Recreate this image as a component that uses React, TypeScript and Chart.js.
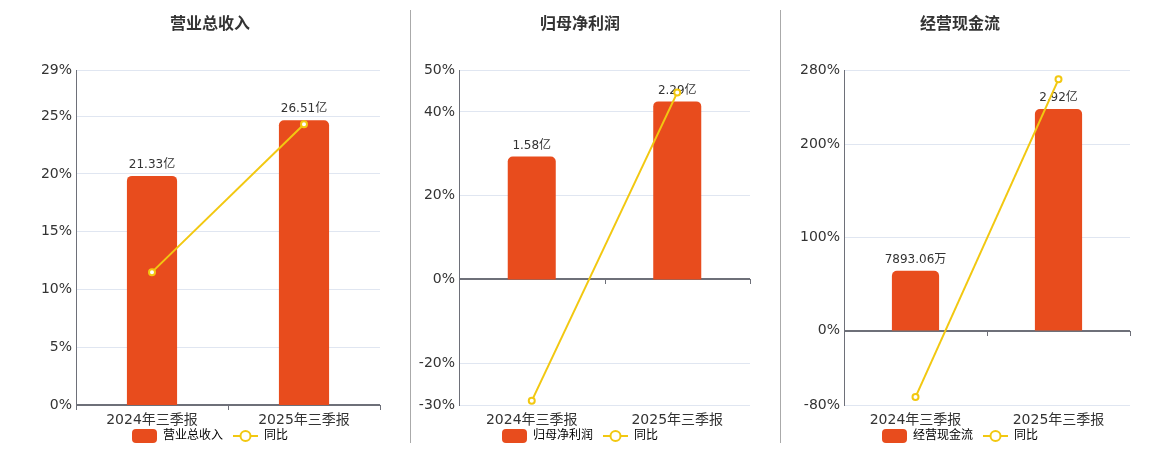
import React, { useEffect, useRef } from "react";
import { Chart, registerables } from "chart.js";

Chart.register(...registerables);

const FONT = '"DejaVu Sans", "Noto Sans CJK SC", sans-serif';
const BAR_COLOR = "#E84C1D";
const LINE_COLOR = "#F2C811";
const AXIS_COLOR = "#6E7079";
const GRID_COLOR = "#E0E6F1";
const TEXT_COLOR = "#333";

Chart.defaults.font.family = FONT;

const periods = ["2024年三季报", "2025年三季报"];

// 营业总收入 (亿)
const revenueValues = [21.33, 26.51];
const revenueLabels = ["21.33亿", "26.51亿"];
const revenueYoy = [11.5, 24.3];
const revenueTicks = [0, 5, 10, 15, 20, 25, 29];

// 归母净利润 (亿)
const profitValues = [1.58, 2.29];
const profitLabels = ["1.58亿", "2.29亿"];
const profitYoy = [-29.0, 44.6];
const profitTicks = [-30, -20, 0, 20, 40, 50];

// 经营现金流 (亿)
const cashValues = [0.789306, 2.92];
const cashLabels = ["7893.06万", "2.92亿"];
const cashYoy = [-71.5, 270];
const cashTicks = [-80, 0, 100, 200, 280];

function makeBarIcon() {
  const c = document.createElement("canvas");
  c.width = 25;
  c.height = 14;
  const ctx = c.getContext("2d")!;
  ctx.fillStyle = BAR_COLOR;
  ctx.beginPath();
  ctx.roundRect(0, 0, 25, 14, 4);
  ctx.fill();
  return c;
}

function makeLineIcon() {
  const c = document.createElement("canvas");
  c.width = 25;
  c.height = 14;
  const ctx = c.getContext("2d")!;
  ctx.strokeStyle = LINE_COLOR;
  ctx.lineWidth = 2;
  ctx.beginPath();
  ctx.moveTo(0, 7);
  ctx.lineTo(25, 7);
  ctx.stroke();
  ctx.beginPath();
  ctx.arc(12.5, 7, 5, 0, Math.PI * 2);
  ctx.fillStyle = "#fff";
  ctx.fill();
  ctx.stroke();
  return c;
}

interface PanelProps {
  title: string;
  values: number[];
  valueLabels: string[];
  yoy: number[];
  ticks: number[];
  left: number;
  width: number;
  axisWidth: number;
  rightGap: number;
}

const Panel: React.FC<PanelProps> = ({ title, values, valueLabels, yoy, ticks, left, width, axisWidth, rightGap }) => {
  const canvasRef = useRef<HTMLCanvasElement>(null);

  useEffect(() => {
    if (!canvasRef.current) return;
    const pctMin = ticks[0];
    const pctMax = ticks[ticks.length - 1];
    const barMax = Math.max(...values) / 0.85;
    const barMin = (barMax * pctMin) / pctMax;
    const barIcon = makeBarIcon();
    const lineIcon = makeLineIcon();

    // value labels above bars, drawn before the line so the line sits on top
    const valueLabelPlugin = {
      id: "valueLabels",
      afterDatasetDraw(chart: any, args: any) {
        if (args.index !== 0) return;
        const ctx = chart.ctx;
        ctx.save();
        ctx.font = `12px ${FONT}`;
        ctx.fillStyle = TEXT_COLOR;
        ctx.textAlign = "center";
        ctx.textBaseline = "middle";
        args.meta.data.forEach((el: any, i: number) => {
          ctx.fillText(valueLabels[i], el.x, el.y - 11);
        });
        ctx.restore();
      },
    };

    // tick marks on the zero line and category labels under the plot
    const categoryAxisPlugin = {
      id: "categoryAxis",
      afterDraw(chart: any) {
        const xs = chart.scales.x;
        const y0 = Math.round(chart.scales.y.getPixelForValue(0));
        const step = xs.width / periods.length;
        const ctx = chart.ctx;
        ctx.save();
        ctx.strokeStyle = AXIS_COLOR;
        ctx.lineWidth = 1;
        ctx.beginPath();
        for (let i = 0; i <= periods.length; i++) {
          const px = Math.round(xs.left + i * step) + 0.5;
          ctx.moveTo(px, y0);
          ctx.lineTo(px, y0 + 5);
        }
        ctx.stroke();
        ctx.font = `14px ${FONT}`;
        ctx.fillStyle = TEXT_COLOR;
        ctx.textAlign = "center";
        ctx.textBaseline = "middle";
        periods.forEach((p, i) => {
          ctx.fillText(p, xs.getPixelForValue(i), chart.chartArea.bottom + 15);
        });
        ctx.restore();
      },
    };

    const chart = new Chart(canvasRef.current, {
      type: "bar",
      data: {
        labels: periods,
        datasets: [
          {
            type: "bar",
            label: title,
            data: values,
            yAxisID: "y1",
            backgroundColor: BAR_COLOR,
            borderRadius: 5,
            barPercentage: 0.33,
            categoryPercentage: 1,
            order: 2,
          },
          {
            type: "line",
            label: "同比",
            data: yoy,
            yAxisID: "y",
            borderColor: LINE_COLOR,
            borderWidth: 2,
            pointRadius: 3,
            pointBackgroundColor: "#fff",
            pointBorderColor: LINE_COLOR,
            pointBorderWidth: 2,
            tension: 0,
            order: 1,
          },
        ],
      },
      options: {
        responsive: false,
        animation: false,
        layout: { padding: 0, autoPadding: false },
        plugins: {
          title: {
            display: true,
            text: title,
            color: TEXT_COLOR,
            font: { size: 16, weight: "bold", family: FONT },
            padding: { top: 15.5, bottom: 35.3 },
          },
          legend: {
            position: "bottom",
            labels: {
              usePointStyle: true,
              pointStyleWidth: 25,
              padding: 10,
              color: TEXT_COLOR,
              font: { size: 12, family: FONT },
              generateLabels: () => [
                { text: title, pointStyle: barIcon, fillStyle: BAR_COLOR, strokeStyle: BAR_COLOR, lineWidth: 0, hidden: false, datasetIndex: 0 },
                { text: "同比", pointStyle: lineIcon, fillStyle: "#fff", strokeStyle: LINE_COLOR, lineWidth: 0, hidden: false, datasetIndex: 1 },
              ],
            },
          },
          tooltip: { enabled: false },
        },
        scales: {
          x: {
            grid: { display: false, drawTicks: false },
            border: { display: false },
            ticks: { display: false },
            afterFit: (s: any) => {
              s.height = 15;
            },
          },
          y: {
            position: "left",
            min: pctMin,
            max: pctMax,
            afterBuildTicks: (s: any) => {
              s.ticks = ticks.map((v) => ({ value: v }));
            },
            afterFit: (s: any) => {
              s.width = axisWidth;
            },
            ticks: {
              autoSkip: false,
              color: TEXT_COLOR,
              font: { size: 14, family: FONT },
              padding: 4,
              callback: (v: any) => `${v}%`,
            },
            grid: {
              drawTicks: false,
              color: (c: any) => (c.tick && c.tick.value === 0 ? AXIS_COLOR : GRID_COLOR),
              lineWidth: (c: any) => (c.tick && c.tick.value === 0 ? 2 : 1),
            },
            border: { color: AXIS_COLOR, width: 1 },
          },
          y1: {
            position: "right",
            min: barMin,
            max: barMax,
            ticks: { display: false },
            grid: { display: false, drawTicks: false },
            border: { display: false },
            afterFit: (s: any) => {
              s.width = rightGap;
            },
          },
        },
      },
      plugins: [valueLabelPlugin, categoryAxisPlugin],
    } as any);

    return () => {
      chart.destroy();
    };
  }, [title, values, valueLabels, yoy, ticks, axisWidth, rightGap]);

  return <canvas ref={canvasRef} width={width} height={452} style={{ position: "absolute", left, top: 0 }} />;
};

const App: React.FC = () => {
  return (
    <div style={{ position: "absolute", left: 0, top: 0, width: 1160, height: 450, overflow: "hidden", background: "#fff" }}>
      <Panel title="营业总收入" values={revenueValues} valueLabels={revenueLabels} yoy={revenueYoy} ticks={revenueTicks} left={0} width={420} axisWidth={76} rightGap={40} />
      <Panel title="归母净利润" values={profitValues} valueLabels={profitLabels} yoy={profitYoy} ticks={profitTicks} left={408} width={344} axisWidth={51} rightGap={2} />
      <Panel title="经营现金流" values={cashValues} valueLabels={cashLabels} yoy={cashYoy} ticks={cashTicks} left={788} width={344} axisWidth={56} rightGap={2} />
      <div style={{ position: "absolute", left: 410, top: 10, width: 1, height: 433, background: "#aaa" }} />
      <div style={{ position: "absolute", left: 780, top: 10, width: 1, height: 433, background: "#aaa" }} />
    </div>
  );
};

export default App;
